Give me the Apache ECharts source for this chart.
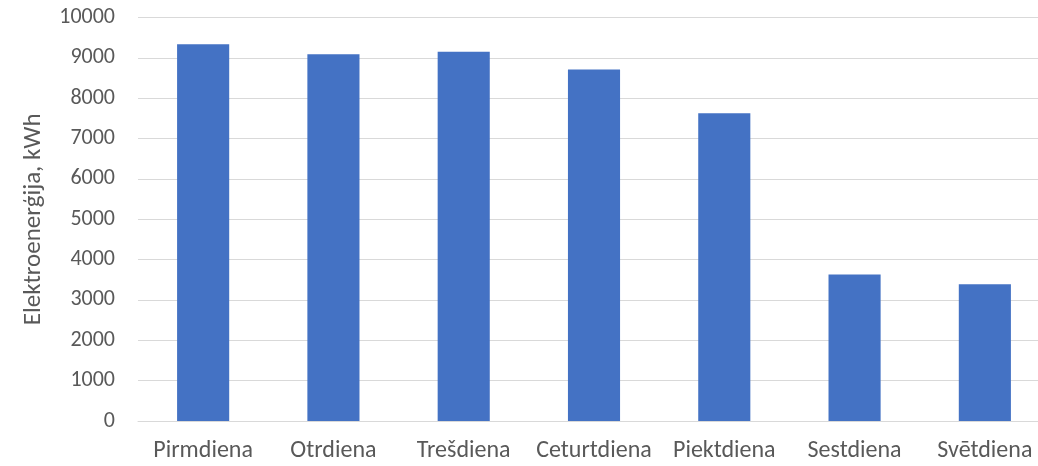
<!DOCTYPE html>
<html>
<head>
<meta charset="utf-8">
<script src="https://cdn.jsdelivr.net/npm/echarts@6/dist/echarts.min.js"></script>
<style>
  html, body { margin: 0; padding: 0; background: #fff; overflow: hidden; }
  /* the plot runs slightly past the right edge of the window */
  #chart { width: 1050px; height: 466px; }
</style>
</head>
<body>
<div id="chart"></div>
<script>
// Weekly electricity consumption by day of week
const days = ['Pirmdiena', 'Otrdiena', 'Trešdiena', 'Ceturtdiena', 'Piektdiena', 'Sestdiena', 'Svētdiena'];
const energyKWh = [9340, 9090, 9150, 8710, 7630, 3630, 3390];
const yAxisTitle = 'Elektroenerģija, kWh';

const fontFamily = 'Carlito, Lato, "Liberation Sans", sans-serif';
const chart = echarts.init(document.getElementById('chart'));
chart.setOption({
  animation: false,
  grid: { left: 138, top: 17.5, right: 0, bottom: 45, containLabel: false },
  xAxis: {
    type: 'category',
    data: days,
    axisLine: { lineStyle: { color: '#d9d9d9', width: 1 } },
    axisTick: { show: false },
    axisLabel: { color: '#595959', fontSize: 24, fontFamily: fontFamily, margin: 18, interval: 0 }
  },
  yAxis: {
    type: 'value',
    min: 0,
    max: 10000,
    interval: 1000,
    name: yAxisTitle,
    nameLocation: 'middle',
    nameGap: 92,
    nameTextStyle: { color: '#595959', fontSize: 25, fontFamily: fontFamily },
    axisLine: { show: false },
    axisTick: { show: false },
    axisLabel: {
      color: '#595959', fontSize: 22, fontFamily: fontFamily, margin: 23,
      formatter: v => String(v)
    },
    splitLine: { lineStyle: { color: '#d9d9d9', width: 1 } }
  },
  series: [{
    type: 'bar',
    data: energyKWh,
    barWidth: '40%',
    itemStyle: { color: '#4472C4' }
  }]
});
</script>
</body>
</html>
